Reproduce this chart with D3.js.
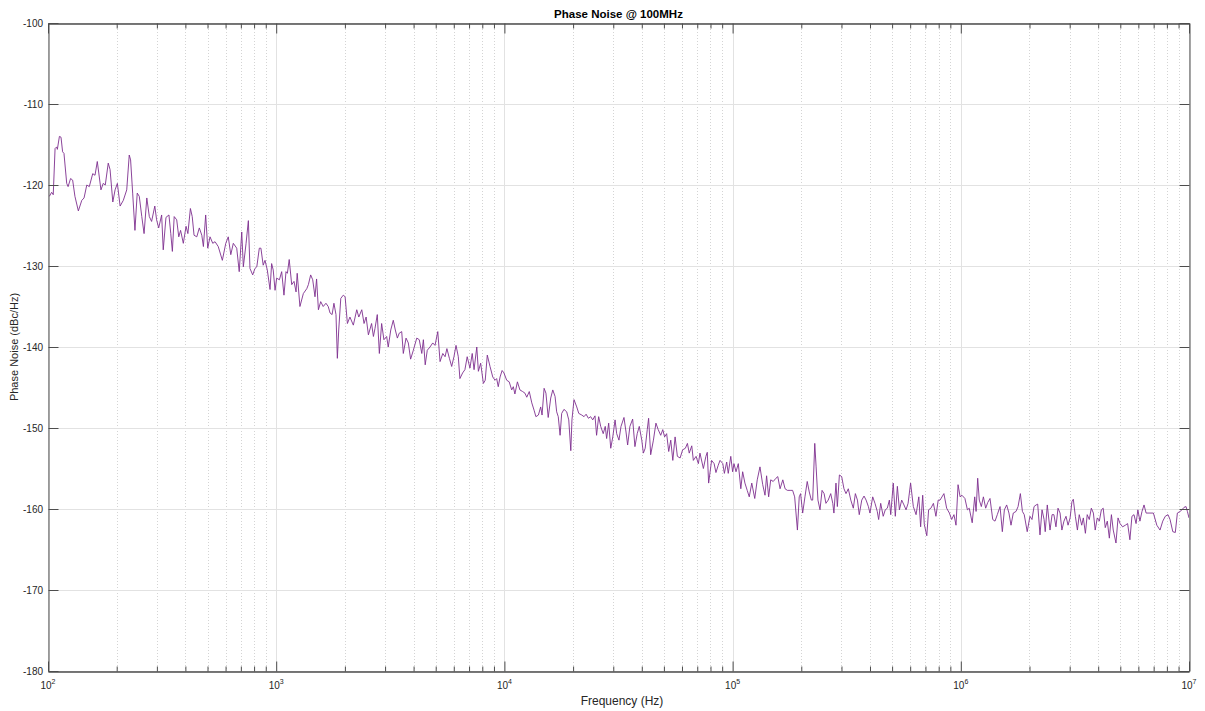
<!DOCTYPE html>
<html>
<head>
<meta charset="utf-8">
<script src="https://cdn.jsdelivr.net/npm/d3@7"></script>
<style>
body { margin: 0; background: #fff; }
text { font-family: "Liberation Sans", Arial, Helvetica, sans-serif; fill: #262626; }
</style>
</head>
<body>
<svg id="chart" width="1205" height="711"></svg>
<script>
var title = "Phase Noise @ 100MHz";
var xLabel = "Frequency (Hz)";
var yLabel = "Phase Noise (dBc/Hz)";
var yTicks = [-180, -170, -160, -150, -140, -130, -120, -110, -100];
var xDecades = [2, 3, 4, 5, 6, 7];          // tick labels are 10^n
var minorSteps = [2, 3, 4, 5, 6, 7, 8, 9];

// offset frequency, log10(Hz)
var logFreq = [
  2.006,2.016,2.023,2.031,2.038,2.041,2.050,2.057,2.064,2.070,2.082,2.088,2.099,2.108,2.118,2.133,2.148,2.158,2.170,2.181,
  2.196,2.206,2.216,2.222,2.232,2.242,2.251,2.264,2.272,2.284,2.294,2.304,2.316,2.330,2.345,2.356,2.362,2.371,2.381,2.391,
  2.400,2.411,2.421,2.433,2.444,2.454,2.468,2.476,2.485,2.498,2.505,2.517,2.530,2.538,2.545,2.553,2.564,2.573,2.581,2.593,
  2.605,2.613,2.624,2.632,2.640,2.652,2.663,2.674,2.681,2.691,2.700,2.710,2.722,2.732,2.746,2.764,2.779,2.790,2.801,2.812,
  2.827,2.838,
  2.849,2.856,2.868,2.878,2.885,2.897,2.907,2.915,2.926,2.933,2.943,2.951,2.961,2.973,2.980,2.987,2.995,3.002,3.014,3.024,
  3.034,3.043,3.049,3.057,3.068,3.078,3.087,3.092,3.104,3.119,3.134,3.141,3.151,3.160,3.170,3.177,3.185,3.195,3.206,3.218,
  3.228,3.236,3.245,3.253,3.262,3.268,3.274,3.283,3.294,3.302,3.312,3.323,3.338,3.353,3.362,3.375,3.385,3.394,3.404,3.418,
  3.426,3.433,3.443,3.452,3.462,3.472,3.484,3.491,3.502,3.513,3.522,3.531,3.539,3.550,3.557,3.569,3.579,3.589,3.601,3.616,
  3.627,3.638,3.645,3.653,3.662,3.674,3.686,3.696,3.708,3.718,3.730,3.740,3.748,3.759,3.769,3.779,3.788,3.798,
  3.805,3.817,3.827,3.837,3.849,3.859,3.867,3.879,3.886,3.896,3.908,3.916,3.925,3.937,3.949,3.959,3.966,3.973,3.981,3.990,
  3.998,4.010,4.021,4.032,4.039,4.046,4.057,4.068,4.080,4.090,4.098,4.109,4.120,4.130,4.138,4.149,4.159,4.165,4.174,4.182,
  4.192,4.203,4.212,4.222,4.229,4.236,4.244,4.251,4.261,4.273,4.282,4.291,4.296,4.305,4.317,4.326,4.339,4.349,4.358,4.368,
  4.378,4.387,4.397,4.404,4.413,4.422,4.433,4.442,4.448,4.457,4.466,4.475,4.485,4.492,4.502,4.511,4.524,4.533,4.540,4.550,
  4.562,4.572,4.582,4.591,4.602,4.609,4.617,4.626,4.632,4.641,4.653,4.664,4.674,4.685,4.694,4.702,4.711,4.720,4.729,4.738,
  4.748,4.758,4.770,4.781,4.793,4.802,4.810,4.821,4.828,4.840,4.850,
  4.857,4.872,4.883,4.889,4.895,4.908,4.919,4.927,4.937,4.945,4.957,4.964,4.974,4.981,4.992,5.000,5.006,5.015,5.025,5.036,
  5.044,5.054,5.064,5.073,5.084,5.097,5.108,5.120,5.132,5.142,5.149,5.158,5.167,5.178,5.190,5.198,5.208,5.220,5.230,5.240,
  5.252,5.263,5.272,5.284,5.292,5.298,5.307,5.317,5.327,5.336,5.345,5.351,5.360,5.366,5.374,5.383,5.392,5.401,5.409,5.419,
  5.430,5.439,5.444,5.453,5.459,5.468,5.478,5.488,5.497,5.507,5.518,5.529,5.538,5.547,5.555,5.566,5.576,5.585,5.595,5.602,
  5.614,5.624,5.634,5.640,5.649,5.660,5.669,5.678,5.687,5.693,5.704,5.713,5.722,5.731,5.741,5.751,5.760,5.769,5.780,5.792,
  5.804,5.816,5.824,5.833,5.840,5.851,5.859,5.869,5.880,5.891,5.901,
  5.909,5.926,5.938,5.950,5.960,5.970,5.979,5.988,5.997,6.005,6.018,6.029,6.037,6.050,6.061,6.067,6.074,6.081,6.090,6.099,
  6.109,6.118,6.128,6.140,6.150,6.160,6.172,6.182,6.191,6.201,6.211,6.220,6.230,6.242,6.251,6.261,6.270,6.278,6.291,6.303,
  6.312,6.321,6.330,6.337,6.347,6.356,6.365,6.370,6.379,6.391,6.400,6.408,6.417,6.426,6.435,6.443,6.452,6.461,6.470,6.479,
  6.487,6.493,6.502,6.511,6.519,6.530,6.537,6.546,6.554,6.563,6.572,6.581,6.589,6.598,6.607,6.616,6.624,6.633,6.642,6.651,
  6.660,6.668,6.680,6.689,6.698,6.709,6.721,6.731,6.741,6.750,6.759,6.768,6.776,6.785,6.794,6.803,6.812,6.829,6.844,6.859,
  6.873,6.885,6.896,6.908,6.917,6.929,6.940,6.949,6.961,6.969,6.978,6.987,6.993,7.000
];

// phase noise, dBc/Hz
var noiseDb = [
  -121.4,-120.9,-121.2,-115.5,-115.3,-115.6,-114.0,-114.1,-115.9,-116.1,-119.8,-120.2,-119.2,-119.4,-121.4,-123.2,-121.9,-121.6,-120.0,-120.2,
  -118.6,-118.8,-117.1,-118.4,-120.6,-119.8,-120.0,-117.3,-118.1,-122.1,-120.6,-119.8,-122.6,-121.9,-120.6,-116.3,-116.9,-121.0,-125.6,-121.0,
  -121.4,-123.9,-126.0,-121.6,-123.9,-124.5,-122.6,-124.3,-125.3,-123.7,-128.0,-124.0,-123.7,-126.0,-128.2,-123.9,-124.3,-126.4,-125.6,-127.2,
  -125.1,-126.0,-122.9,-123.9,-126.2,-126.4,-125.3,-126.2,-127.6,-123.7,-127.8,-126.4,-127.2,-127.0,-127.6,-129.3,-127.2,-126.4,-128.6,-127.2,
  -127.8,-130.7,
  -125.8,-130.1,-127.2,-124.4,-130.3,-131.1,-130.3,-130.1,-127.8,-127.8,-129.9,-129.3,-130.5,-132.9,-129.7,-130.5,-133.0,-131.5,-131.7,-130.7,
  -133.6,-130.7,-130.9,-129.2,-132.3,-131.9,-133.2,-130.9,-135.0,-133.4,-132.8,-132.3,-131.1,-131.7,-133.8,-131.6,-135.4,-134.4,-135.0,-134.6,
  -135.0,-135.8,-136.0,-134.6,-136.0,-141.4,-137.9,-134.0,-133.6,-133.8,-137.1,-136.3,-137.3,-135.4,-136.3,-135.4,-137.1,-136.3,-138.5,-137.1,
  -138.7,-137.7,-136.0,-140.8,-137.1,-139.1,-138.7,-140.0,-137.9,-136.7,-137.9,-138.9,-138.3,-138.1,-140.8,-138.9,-139.5,-141.5,-140.4,-138.9,
  -139.1,-140.8,-139.1,-142.2,-140.4,-140.0,-139.5,-139.8,-138.1,-141.8,-140.8,-141.2,-140.2,-141.4,-142.4,-141.2,-139.8,-141.2,
  -143.9,-143.2,-142.8,-141.2,-142.6,-140.8,-142.8,-140.0,-143.0,-142.0,-144.5,-144.1,-141.0,-142.4,-143.7,-144.1,-143.9,-144.9,-143.7,-142.9,
  -143.2,-144.1,-144.3,-145.3,-144.9,-145.8,-144.3,-145.3,-145.5,-145.7,-146.2,-145.5,-146.9,-147.8,-148.6,-148.4,-147.4,-148.4,-145.1,-145.7,
  -148.7,-146.3,-145.3,-146.1,-148.0,-148.6,-150.9,-148.2,-147.7,-148.0,-149.0,-152.8,-149.0,-146.5,-147.4,-148.2,-148.4,-148.6,-148.3,-148.8,
  -148.6,-149.0,-148.5,-150.9,-148.6,-149.8,-150.7,-149.8,-151.3,-149.4,-152.5,-151.1,-149.0,-150.7,-151.5,-149.8,-148.7,-150.5,-152.1,-149.8,
  -148.9,-152.3,-150.7,-149.8,-151.5,-153.1,-152.5,-150.2,-148.8,-153.3,-151.5,-149.4,-150.2,-150.9,-150.2,-151.1,-150.7,-152.9,-151.5,-154.0,
  -151.1,-153.5,-153.7,-152.7,-152.5,-151.9,-153.1,-152.2,-154.0,-153.5,-154.4,
  -153.1,-155.0,-153.5,-153.0,-156.8,-154.0,-154.4,-155.5,-154.6,-154.0,-154.4,-155.6,-154.2,-155.6,-153.5,-155.4,-154.4,-155.4,-154.4,-157.5,
  -155.4,-156.8,-157.7,-158.5,-156.8,-158.7,-156.4,-154.8,-157.0,-158.3,-155.9,-158.5,-156.4,-156.6,-156.2,-156.0,-157.5,-156.4,-157.5,-157.7,
  -157.7,-157.7,-158.5,-162.6,-158.5,-158.1,-160.5,-158.5,-156.6,-157.9,-158.9,-158.9,-151.9,-154.8,-158.9,-160.1,-157.7,-158.1,-159.3,-158.9,
  -158.1,-159.3,-160.5,-156.8,-159.7,-155.8,-156.0,-157.5,-158.1,-157.5,-158.9,-159.9,-158.1,-158.9,-160.7,-158.9,-158.4,-158.9,-159.7,-160.5,
  -158.5,-159.3,-160.3,-161.3,-159.3,-160.9,-160.1,-159.9,-158.9,-160.7,-156.8,-160.9,-157.2,-160.1,-158.9,-159.5,-160.1,-159.3,-156.8,-159.7,
  -160.7,-158.5,-162.2,-158.3,-161.9,-163.3,-160.1,-159.9,-159.3,-160.9,-158.9,
  -158.9,-158.1,-159.9,-160.5,-161.3,-160.7,-162.0,-157.0,-158.5,-158.3,-158.7,-160.1,-159.9,-161.7,-158.5,-160.3,-156.2,-158.9,-159.7,-158.5,
  -159.9,-159.2,-158.7,-161.3,-161.5,-160.7,-159.7,-162.8,-160.1,-159.5,-160.5,-162.0,-160.5,-160.3,-159.7,-158.1,-160.3,-160.7,-162.8,-160.9,
  -161.3,-159.7,-159.5,-159.4,-163.2,-160.1,-161.3,-162.8,-159.5,-162.6,-160.7,-160.7,-162.2,-159.9,-160.5,-162.6,-161.5,-160.9,-162.0,-161.1,
  -159.1,-158.8,-160.9,-162.6,-160.7,-162.0,-161.1,-163.0,-160.7,-161.3,-159.9,-160.5,-162.6,-161.1,-161.5,-160.1,-159.9,-162.3,-161.5,-163.6,
  -160.7,-162.6,-164.2,-161.1,-161.8,-162.2,-162.0,-161.8,-163.8,-160.9,-160.7,-161.8,-160.1,-161.5,-160.3,-159.5,-160.5,-160.5,-160.5,-162.0,
  -162.6,-161.5,-160.9,-160.7,-161.3,-162.8,-162.9,-160.5,-160.3,-160.1,-159.8,-159.7,-160.3,-161.1
];

var plotL = 48, plotR = 1189, plotT = 23, plotB = 671;

var x = d3.scaleLog().domain([1e2, 1e7]).range([plotL, plotR]);
var y = d3.scaleLinear().domain([-180, -100]).range([plotB, plotT]);

var svg = d3.select("#chart");

var majorX = xDecades.map(function(e){ return Math.pow(10, e); });
var minorX = [];
xDecades.slice(0, -1).forEach(function(e){
  minorSteps.forEach(function(s){ minorX.push(s * Math.pow(10, e)); });
});

function px(v){ return Math.round(v) + 0.5; }

// grid
var grid = svg.append("g");
grid.selectAll(".minor").data(minorX).enter().append("line")
  .attr("x1", d => px(x(d))).attr("x2", d => px(x(d)))
  .attr("y1", plotT).attr("y2", plotB)
  .attr("stroke", "#d4d4d4").attr("stroke-dasharray", "1,2");
grid.selectAll(".majx").data(majorX).enter().append("line")
  .attr("x1", d => px(x(d))).attr("x2", d => px(x(d)))
  .attr("y1", plotT).attr("y2", plotB)
  .attr("stroke", "#e2e2e2");
grid.selectAll(".majy").data(yTicks).enter().append("line")
  .attr("x1", plotL).attr("x2", plotR)
  .attr("y1", d => px(y(d))).attr("y2", d => px(y(d)))
  .attr("stroke", "#e2e2e2");

// trace
var pts = d3.zip(logFreq, noiseDb);
svg.append("clipPath").attr("id", "plotclip").append("rect")
  .attr("x", plotL).attr("y", plotT).attr("width", plotR - plotL).attr("height", plotB - plotT);
svg.append("path")
  .datum(pts)
  .attr("clip-path", "url(#plotclip)")
  .attr("fill", "none")
  .attr("stroke", "#7E2F8E")
  .attr("stroke-width", 0.9)
  .attr("stroke-linejoin", "round")
  .attr("d", d3.line().x(d => x(Math.pow(10, d[0]))).y(d => y(d[1])));

// axes: ticks point inward on all four sides
var axisColor = "#4d4d4d";
function addAxis(gen, tx, ty){
  var g = svg.append("g").attr("transform", "translate(" + tx + "," + ty + ")")
    .attr("color", axisColor).call(gen);
  g.selectAll("text").remove();
  return g;
}
addAxis(d3.axisBottom(x).tickValues(minorX).tickSize(-5).tickSizeOuter(0).tickFormat(""), 0, plotB + 0.5);
addAxis(d3.axisBottom(x).tickValues(majorX).tickSize(-10).tickSizeOuter(0).tickFormat(""), 0, plotB + 0.5);
addAxis(d3.axisTop(x).tickValues(minorX).tickSize(-5).tickSizeOuter(0).tickFormat(""), 0, plotT + 0.5);
addAxis(d3.axisTop(x).tickValues(majorX).tickSize(-10).tickSizeOuter(0).tickFormat(""), 0, plotT + 0.5);
addAxis(d3.axisLeft(y).tickValues(yTicks).tickSize(-10).tickSizeOuter(0).tickFormat(""), plotL + 0.5, 0);
addAxis(d3.axisRight(y).tickValues(yTicks).tickSize(-10).tickSizeOuter(0).tickFormat(""), plotR + 0.5, 0);

// tick labels
svg.append("g").selectAll("text").data(yTicks).enter().append("text")
  .attr("x", plotL - 5).attr("y", d => y(d)).attr("dy", "0.35em")
  .attr("text-anchor", "end").attr("font-size", 10)
  .text(d => d);

var xl = svg.append("g").selectAll("text").data(xDecades).enter().append("text")
  .attr("x", d => x(Math.pow(10, d))).attr("y", plotB + 18)
  .attr("text-anchor", "middle").attr("font-size", 10);
xl.append("tspan").text("10");
xl.append("tspan").attr("dy", -5).attr("font-size", 7).text(d => d);

// titles
svg.append("text").attr("x", (plotL + plotR) / 2).attr("y", 18)
  .attr("text-anchor", "middle").attr("font-size", 11.5).attr("font-weight", "bold")
  .style("fill", "#000")
  .text(title);
svg.append("text").attr("x", 622).attr("y", 705)
  .attr("text-anchor", "middle").attr("font-size", 12)
  .text(xLabel);
svg.append("text").attr("transform", "translate(18," + ((plotT + plotB) / 2) + ") rotate(-90)")
  .attr("text-anchor", "middle").attr("font-size", 11)
  .text(yLabel);
</script>
</body>
</html>
